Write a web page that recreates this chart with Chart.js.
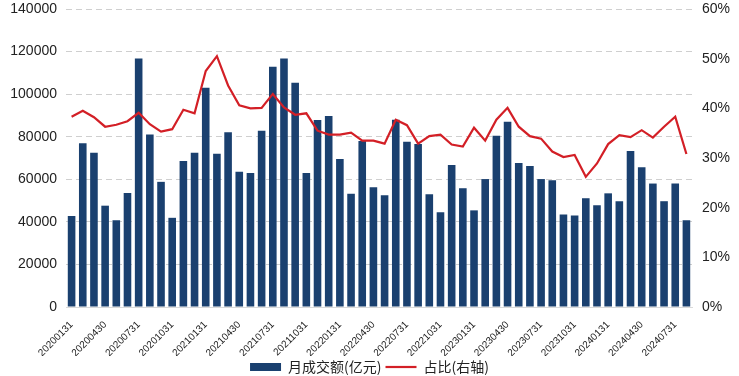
<!DOCTYPE html>
<html lang="zh">
<head>
  <meta charset="UTF-8" />
  <title>月成交额与占比</title>
  <script src="https://cdn.jsdelivr.net/npm/chart.js"></script>
  <style>
    body {
      margin: 0;
      background: #ffffff;
    }
    #wrap {
      width: 739px;
      height: 376px;
    }
  </style>
</head>
<body>
  <div id="wrap">
    <canvas id="chart" width="739" height="376"></canvas>
  </div>

  <script>
    const months = [
      "20200131", "20200229", "20200331", "20200430", "20200531", "20200630",
      "20200731", "20200831", "20200930", "20201031", "20201130", "20201231",
      "20210131", "20210228", "20210331", "20210430", "20210531", "20210630",
      "20210731", "20210831", "20210930", "20211031", "20211130", "20211231",
      "20220131", "20220228", "20220331", "20220430", "20220531", "20220630",
      "20220731", "20220831", "20220930", "20221031", "20221130", "20221231",
      "20230131", "20230228", "20230331", "20230430", "20230531", "20230630",
      "20230731", "20230831", "20230930", "20231031", "20231130", "20231231",
      "20240131", "20240229", "20240331", "20240430", "20240531", "20240630",
      "20240731", "20240831"
    ];

    // 月成交额(亿元)
    const turnover = [
      42700, 76900, 72500, 47600, 40800, 53600, 116800, 81000, 58800, 41900, 68600, 72500,
      103000, 72000, 82100, 63500, 62900, 82800, 112900, 116800, 105300, 62900, 87800, 89700,
      69500, 53200, 78000, 56300, 52500, 88000, 77600, 76600, 53000, 44500, 66700, 55800,
      45400, 60100, 80400, 87000, 67600, 66200, 60100, 59600, 43500, 43000, 51100, 47800,
      53400, 49700, 73300, 65700, 58000, 49700, 58000, 40700
    ];

    // 占比(%), right axis
    const share = [
      38.3, 39.5, 38.2, 36.3, 36.7, 37.4, 39.1, 36.8, 35.3, 35.8, 39.7, 39.0,
      47.5, 50.5, 44.6, 40.6, 40.0, 40.1, 42.9, 40.2, 38.7, 39.0, 35.5, 34.7,
      34.7, 35.1, 33.5, 33.5, 32.9, 37.7, 36.6, 32.9, 34.4, 34.7, 32.7, 32.3,
      36.1, 33.5, 37.7, 40.1, 36.3, 34.4, 33.9, 31.3, 30.2, 30.6, 26.2, 28.9,
      32.8, 34.6, 34.2, 35.6, 34.1, 36.3, 38.3, 30.8
    ];

    const leftTicks = [0, 20000, 40000, 60000, 80000, 100000, 120000, 140000];
    const rightTicks = [0, 10, 20, 30, 40, 50, 60];

    const axisFont = { family: "'Liberation Sans', Arial, sans-serif", size: 14 };

    new Chart(document.getElementById("chart"), {
      data: {
        labels: months,
        datasets: [
          {
            type: "bar",
            label: "月成交额(亿元)",
            data: turnover,
            backgroundColor: "#1a406f",
            borderWidth: 0,
            barPercentage: 0.68,
            categoryPercentage: 1.0,
            yAxisID: "y",
            pointStyle: "rect",
            order: 1
          },
          {
            type: "line",
            label: "占比(右轴)",
            data: share,
            borderColor: "#d31f26",
            backgroundColor: "#d31f26",
            borderWidth: 2.2,
            pointRadius: 0,
            tension: 0,
            yAxisID: "y1",
            pointStyle: "line",
            order: 0
          }
        ]
      },
      options: {
        responsive: false,
        animation: false,
        devicePixelRatio: 1,
        layout: {
          padding: { top: 0, right: 0, bottom: -8, left: 0 }
        },
        plugins: {
          tooltip: { enabled: false },
          legend: {
            display: true,
            position: "bottom",
            labels: {
              usePointStyle: true,
              pointStyleWidth: 31,
              boxHeight: 8,
              padding: 4,
              color: "#222",
              font: { family: "'Noto Sans CJK SC', sans-serif", size: 14 },
              sort: (a, b) => a.datasetIndex - b.datasetIndex
            }
          }
        },
        scales: {
          x: {
            grid: { display: false, drawTicks: false },
            border: { display: true, color: "#d9d9d9", width: 1 },
            ticks: {
              autoSkip: false,
              maxRotation: 45,
              minRotation: 45,
              padding: 12,
              color: "#222",
              font: { family: "'Liberation Sans', Arial, sans-serif", size: 10 },
              callback: function (val, i) {
                return i % 3 === 0 ? months[i] : "";
              }
            },
            afterFit: (scale) => { scale.height = 49; }
          },
          y: {
            position: "left",
            min: 0,
            max: 140000,
            afterBuildTicks: (scale) => { scale.ticks = leftTicks.map(v => ({ value: v })); },
            grid: {
              color: "#cfcfcf",
              lineWidth: 1,
              drawTicks: false
            },
            border: { display: false, dash: [6, 4] },
            ticks: {
              padding: 9,
              color: "#222",
              font: axisFont,
              callback: (v) => String(v)
            },
            afterFit: (scale) => {
              scale.width = 66;
              scale.paddingTop = 9;
            }
          },
          y1: {
            position: "right",
            min: 0,
            max: 60,
            afterBuildTicks: (scale) => { scale.ticks = rightTicks.map(v => ({ value: v })); },
            grid: { display: false, drawTicks: false },
            border: { display: false },
            ticks: {
              padding: 10,
              color: "#222",
              font: axisFont,
              callback: (v) => v + "%"
            },
            afterFit: (scale) => {
              scale.width = 47;
              scale.paddingTop = 9;
            }
          }
        }
      }
    });
  </script>
</body>
</html>
